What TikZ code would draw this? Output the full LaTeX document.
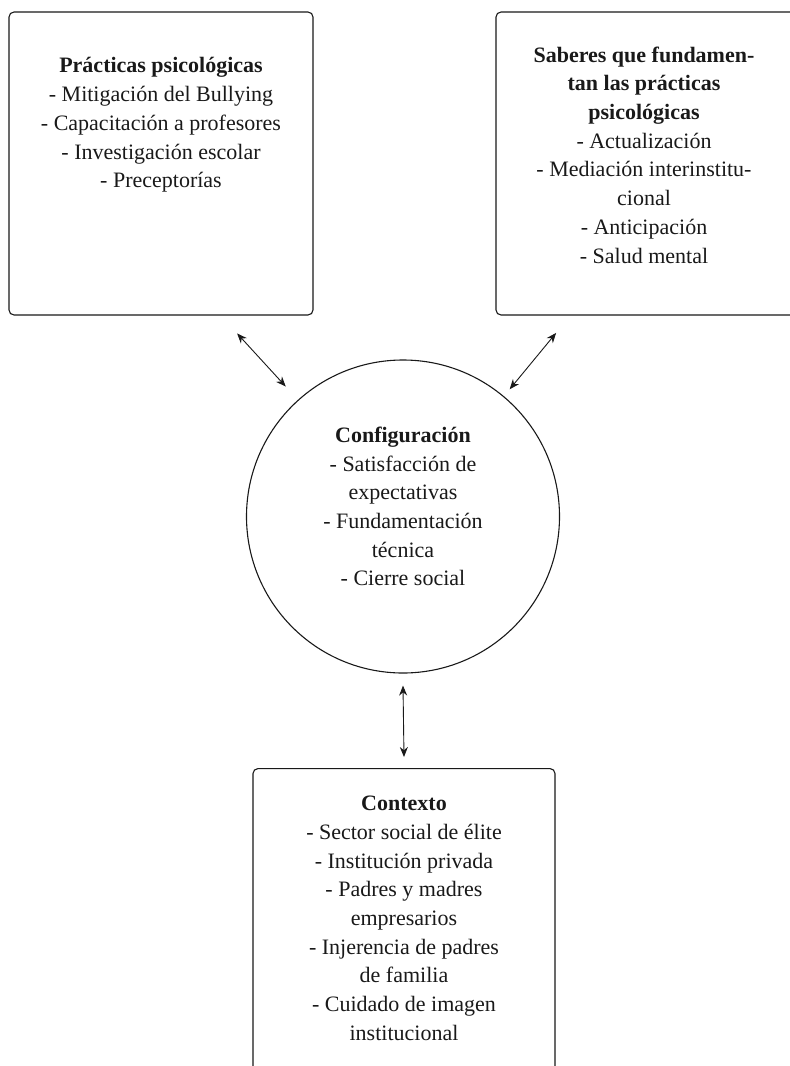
\documentclass[tikz,border=0pt]{standalone}
\usepackage{fontspec}
\setmainfont{Liberation Serif}
\usetikzlibrary{arrows.meta, positioning}

\begin{document}
\begin{tikzpicture}[
    x=1pt, y=-1pt,
    box/.style={rectangle, draw=black!90, line width=1.1pt, rounded corners=5pt, minimum width=304pt, minimum height=303pt, inner sep=0pt},
    txt/.style={align=center, inner sep=0pt, text=black!90, font=\fontsize{22}{28.7}\selectfont},
    dblarrow/.style={line width=0.9pt, black!90, {Stealth[length=10pt,width=8pt]}-{Stealth[length=10pt,width=8pt]}},
]
    \useasboundingbox (0,0) rectangle (790,1066);

    \node[box] (prac) at (161,163.5) {};
    \node[box] (sab) at (648,163.5) {};
    \node[circle, draw=black!90, line width=1.1pt, minimum size=313pt, inner sep=0pt] (conf) at (403,516.5) {};
    \node[box, minimum width=302pt, minimum height=310pt, anchor=north] (ctx) at (404,768) {};

    \node[txt, below=46pt of prac.north] (pracT) {\textbf{Prácticas psicológicas}\\- Mitigación del Bullying\\- Capacitación a profesores\\- Investigación escolar\\- Preceptorías};
    \node[txt, below=35pt of sab.north, xshift=-4pt] (sabT) {\textbf{Saberes que fundamen-}\\\textbf{tan las prácticas}\\\textbf{psicológicas}\\- Actualización\\- Mediación interinstitu-\\cional\\- Anticipación\\- Salud mental};
    \node[txt] (confT) at ([yshift=10pt]conf.center) {\textbf{Configuración}\\- Satisfacción de\\expectativas\\- Fundamentación\\técnica\\- Cierre social};
    \node[txt, below=28pt of ctx.north] (ctxT) {\textbf{Contexto}\\- Sector social de élite\\- Institución privada\\- Padres y madres\\empresarios\\- Injerencia de padres\\de familia\\- Cuidado de imagen\\institucional};

    \draw[dblarrow] ([shift={(132.5:90pt)}]conf.132.5) -- ([shift={(132.5:18pt)}]conf.132.5);
    \draw[dblarrow] ([shift={(50.5:82pt)}]conf.50.5) -- ([shift={(50.5:9pt)}]conf.50.5);
    \draw[dblarrow] ([yshift=-12pt]conf.south) -- ([yshift=11pt]ctx.north);
\end{tikzpicture}
\end{document}
